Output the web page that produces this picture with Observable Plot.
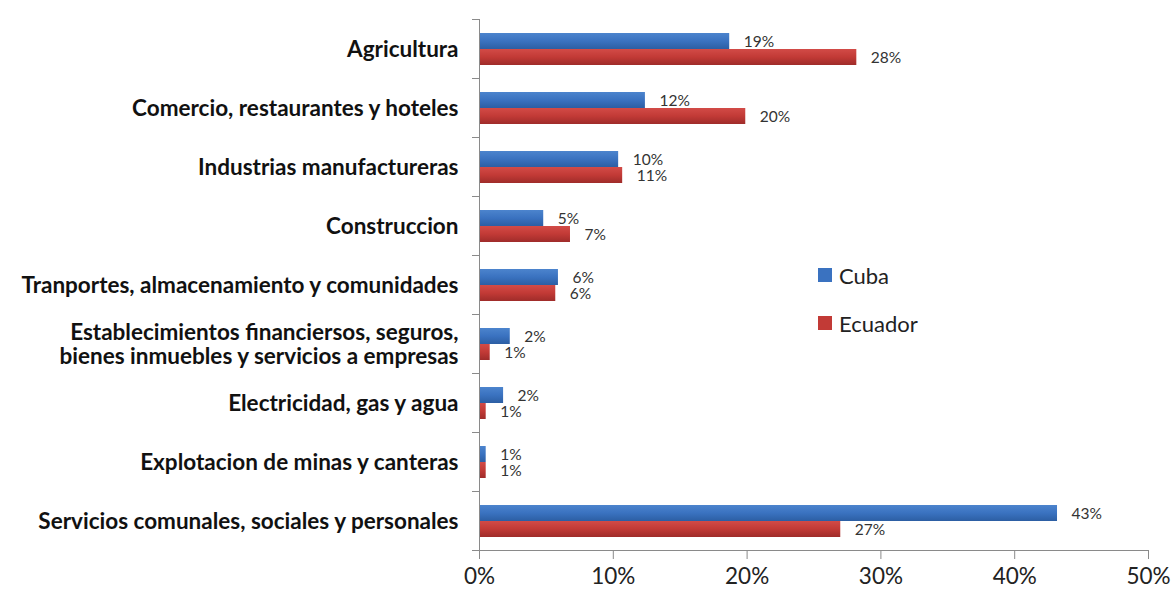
<!DOCTYPE html>
<html>
<head>
<meta charset="utf-8">
<script src="https://cdn.jsdelivr.net/npm/d3@7"></script>
<script src="https://cdn.jsdelivr.net/npm/@observablehq/plot@0.6"></script>
<style>
  html, body { margin: 0; padding: 0; background: #fff; }
  #wrap { position: relative; width: 1171px; height: 594px; }
  #legend { position: absolute; left: 818px; top: 259px; font-family: Lato, "Open Sans", sans-serif; font-size: 22px; color: #222; }
  #legend .item { display: flex; align-items: center; height: 32px; margin-bottom: 16px; }
  #legend .sw { width: 14px; height: 14px; margin-right: 7px; }
</style>
</head>
<body>
<div id="wrap"><div id="chart"></div><div id="legend"></div></div>
<script>
const categories = [
  "Agricultura",
  "Comercio, restaurantes y hoteles",
  "Industrias manufactureras",
  "Construccion",
  "Tranportes, almacenamiento y comunidades",
  "Establecimientos financiersos, seguros,\nbienes inmuebles y servicios a empresas",
  "Electricidad, gas y agua",
  "Explotacion de minas y canteras",
  "Servicios comunales, sociales y personales"
];
const series = ["Cuba", "Ecuador"];
const cuba =    [18.7, 12.4, 10.4, 4.8, 5.9, 2.3, 1.8, 0.5, 43.2];
const ecuador = [28.2, 19.9, 10.7, 6.8, 5.7, 0.8, 0.5, 0.5, 27.0];
const xTicks = [0, 10, 20, 30, 40, 50];
const colors = ["#3a72c0", "#c23a36"];
const gradients = [
  ["gradCuba", ["#4c84cd", "#3a72c0", "#2c5ea3"]],
  ["gradEcuador", ["#d24b47", "#c23a36", "#9f2c2a"]]
];

const data = categories.flatMap((c, i) => [
  {category: c, series: "Cuba", value: cuba[i]},
  {category: c, series: "Ecuador", value: ecuador[i]}
]);

const W = 1171, H = 594, ML = 479, MR = 23, MT = 17, MB = 43;
const frameW = W - ML - MR;

function defs() {
  const d = d3.create("svg:defs");
  gradients.forEach(([id, stops]) => {
    const g = d.append("linearGradient").attr("id", id).attr("x1", 0).attr("y1", 0).attr("x2", 0).attr("y2", 1);
    stops.forEach((c, k) => g.append("stop").attr("offset", k / (stops.length - 1)).attr("stop-color", c));
  });
  return d.node();
}

const chart = Plot.plot({
  width: W,
  height: H,
  marginLeft: ML,
  marginRight: MR,
  marginTop: MT,
  marginBottom: MB,
  style: {fontFamily: "Lato, 'Open Sans', sans-serif", background: "white", color: "#222"},
  x: {domain: [0, 50], ticks: xTicks},
  fy: {domain: categories, padding: 0},
  y: {domain: series, paddingInner: 0, paddingOuter: 0.74, axis: null},
  marks: [
    defs,
    Plot.barX(data, {filter: d => d.series === "Cuba", fy: "category", y: "series", x: "value", fill: "url(#gradCuba)"}),
    Plot.barX(data, {filter: d => d.series === "Ecuador", fy: "category", y: "series", x: "value", fill: "url(#gradEcuador)"}),
    Plot.text(data, {
      fy: "category", y: "series", x: "value",
      text: d => Math.round(d.value) + "%",
      textAnchor: "start", dx: 14, dy: 1, fontSize: 15.5, fill: "#333"
    }),
    Plot.frame({anchor: "left", stroke: "#8a8a8a"}),
    Plot.frame({anchor: "top", stroke: "#8a8a8a", insetLeft: -7, insetRight: frameW}),
    Plot.frame({anchor: "bottom", facetAnchor: "bottom", stroke: "#8a8a8a", insetLeft: -7}),
    Plot.axisX({
      ticks: xTicks, tickFormat: d => d + "%", fontSize: 22.5, tickSize: 9,
      tickPadding: 9, stroke: "#8a8a8a", color: "#222", label: null
    }),
    Plot.axisFy({
      anchor: "left", tickSize: 0, tickPadding: 21, fontSize: 22.5,
      fontWeight: "bold", label: null, fill: "#111", lineHeight: 1.1
    })
  ]
});
document.getElementById("chart").appendChild(chart);

const legend = document.getElementById("legend");
series.forEach((s, i) => {
  const it = document.createElement("div");
  it.className = "item";
  it.innerHTML = `<span class="sw" style="background:${colors[i]}"></span><span>${s}</span>`;
  legend.appendChild(it);
});
</script>
</body>
</html>
